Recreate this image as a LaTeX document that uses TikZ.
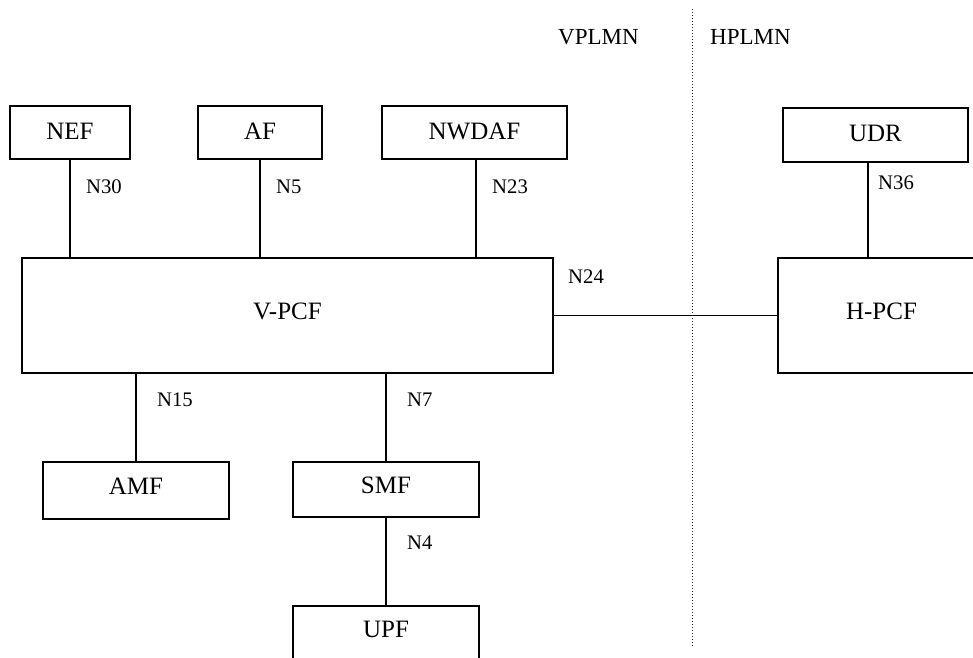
\documentclass[tikz,border=0pt]{standalone}
\usepackage{fontspec}
\setmainfont{Liberation Serif}
\begin{document}
\begin{tikzpicture}[x=1pt,y=-1pt,
  nf/.style={draw, line width=1.2pt, inner sep=0pt, outer sep=0pt, font=\fontsize{25}{30}\selectfont, text depth=8pt},
  nftop/.style={nf, text depth=3pt},
  lbl/.style={anchor=west, inner sep=0pt, font=\fontsize{20.7}{24}\selectfont},
  plmn/.style={anchor=west, inner sep=0pt, font=\fontsize{23}{27}\selectfont},
  link/.style={line width=1.2pt},
  border/.style={dash pattern=on 1pt off 2pt, line width=1.1pt, black!85}]
\useasboundingbox (0,0) rectangle (973,657);
\clip (0,0) rectangle (973,657);
% network functions
\node[nftop, minimum width=120pt, minimum height=53pt] (nef) at (70,132.5) {NEF};
\node[nftop, minimum width=124pt, minimum height=53pt] (af) at (260,132.5) {AF};
\node[nftop, minimum width=185pt, minimum height=53pt] (nwdaf) at (474.5,132.5) {NWDAF};
\node[nftop, minimum width=185pt, minimum height=54pt] (udr) at (875.5,135) {UDR};
\node[nf, minimum width=531pt, minimum height=115pt] (vpcf) at (287.5,315.5) {V-PCF};
\node[nf, minimum width=207pt, minimum height=115pt] (hpcf) at (881.5,315.5) {H-PCF};
\node[nf, minimum width=186pt, minimum height=57pt] (amf) at (136,490.5) {AMF};
\node[nf, minimum width=186pt, minimum height=55pt] (smf) at (386,489.5) {SMF};
\node[nf, minimum width=186pt, minimum height=54pt] (upf) at (386,633) {UPF};
% connectors
\draw[link] (nef.south) -- (nef.south |- vpcf.north);
\draw[link] (af.south) -- (af.south |- vpcf.north);
\draw[link] ([xshift=1.5pt]nwdaf.south) -- ([xshift=1.5pt]nwdaf.south |- vpcf.north);
\draw[link] ([xshift=-7.5pt]udr.south) -- ([xshift=-7.5pt]udr.south |- hpcf.north);
\draw[link] (vpcf.east) -- (hpcf.west);
\draw[link] (vpcf.south -| amf.north) -- (amf.north);
\draw[link] (vpcf.south -| smf.north) -- (smf.north);
\draw[link] (smf.south) -- (upf.north);
% PLMN border
\coordinate (btop) at (692.5,9);
\coordinate (bbot) at (692.5,647);
\draw[border] (btop) -- (bbot);
\node[plmn] (vplmn) at (558,37) {VPLMN};
\node[plmn] (hplmn) at (710,37) {HPLMN};
% interface labels
\node[lbl] (n30) at (86,187) {N30};
\node[lbl] (n5) at (276,187) {N5};
\node[lbl] (n23) at (492,187) {N23};
\node[lbl] (n36) at (878,183) {N36};
\node[lbl] (n24) at (568,277) {N24};
\node[lbl] (n15) at (157,400) {N15};
\node[lbl] (n7) at (407,400) {N7};
\node[lbl] (n4) at (407,543) {N4};
\end{tikzpicture}
\end{document}
